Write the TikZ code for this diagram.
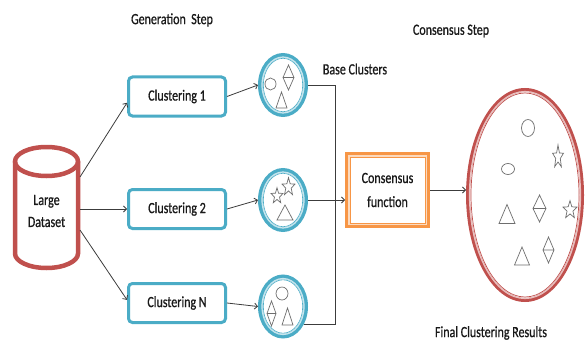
\documentclass[tikz,border=0pt]{standalone}
\usepackage{fontspec}
\setmainfont{Carlito}[FakeBold=0.9]
\usepackage{graphicx}
\usetikzlibrary{shapes.geometric,arrows.meta,calc}
\definecolor{teal1}{RGB}{75,172,198}
\definecolor{red1}{RGB}{192,80,77}
\definecolor{org1}{RGB}{247,150,70}
\definecolor{txt}{RGB}{25,25,25}
\definecolor{connc}{RGB}{60,60,60}
\definecolor{shpc}{RGB}{110,110,110}
\newcommand\vs[1]{\scalebox{1}[1.3]{#1}}
\newcommand\shtri[4]{\draw[shp,shift={(#1,#2)}] (0,-#4) -- (#3,#4) -- (-#3,#4) -- cycle;}
\newcommand\shdia[4]{\draw[shp,shift={(#1,#2)}] (0,-#4) -- (#3,0) -- (0,#4) -- (-#3,0) -- cycle (-#3,0) -- (#3,0);}
\newcommand\shcirc[4]{\draw[shp] (#1,#2) ellipse[x radius=#3, y radius=#4];}
\newcommand\shstar[4]{\draw[shp,shift={(#1,#2)},xscale=#3,yscale=#4] (-90:1) -- (-54:0.42) -- (-18:1) -- (18:0.42) -- (54:1) -- (90:0.42) -- (126:1) -- (162:0.42) -- (198:1) -- (234:0.42) -- cycle;}
\begin{document}
\begin{tikzpicture}[x=1pt,y=-1pt,
  lbl/.style={font=\fontsize{12}{14}\selectfont, text=txt, inner sep=0},
  cbox/.style={draw=teal1, line width=3, rounded corners=4, minimum width=97, minimum height=39, fill=white, font=\fontsize{12}{14}\selectfont, text=txt, inner sep=0},
  bcl/.style={ellipse, draw=teal1, line width=4.5, minimum width=45.5, minimum height=59.5, inner sep=0, fill=white},
  conn/.style={draw=connc, line width=0.8},
  arr/.style={conn, -{Straight Barb[length=3pt,width=6pt]}},
  shp/.style={draw=shpc, line width=0.7}]
\useasboundingbox (0,0) rectangle (585,342);
% cylinder
\draw[red1, line width=4.5, fill=white] (15,161.5) -- (15,253.5) arc[start angle=180, end angle=0, x radius=31.5, y radius=14.5] -- (78,161.5);
\draw[red1, line width=4.5] (46.5,161.5) ellipse [x radius=31.5, y radius=14.5];
\node[inner sep=0, minimum width=67, minimum height=125, align=center, font=\fontsize{12}{22}\selectfont, text=txt] (ds) at (46.5,211) {\vs{Large}\\\vs{Dataset}};
\coordinate (d1) at (80,177);
\coordinate (d2) at (80,209);
\coordinate (d3) at (80,230);
% clustering boxes
\node[cbox] (c1) at (177,96.5) {\vs{Clustering 1}};
\node[cbox] (c2) at (177,209) {\vs{Clustering 2}};
\node[cbox] (c3) at (177,303) {\vs{Clustering N}};
% base clusters
\node[bcl] (b1) at (283,85) {};
\node[bcl] (b2) at (283,200) {};
\node[bcl] (b3) at (283,306.5) {};
\foreach \b in {b1,b2,b3}{
  \draw[teal1!30, line width=1.2] (\b.center) ellipse[x radius=21, y radius=28];
  \draw[teal1, line width=0.6] (\b.center) ellipse[x radius=19.7, y radius=26.7];
}
% consensus box
\node[draw=org1, line width=5.5, minimum width=79.5, minimum height=70.5, inner sep=0, fill=white, align=center, font=\fontsize{12}{24}\selectfont, text=txt] (cf) at (387.5,190) {\vs{Consensus}\\\vs{function}};
\draw[org1!35, line width=2] ([shift={(3.6,3.6)}]cf.north west) rectangle ([shift={(-3.6,-3.6)}]cf.south east);
\draw[org1, line width=0.8] ([shift={(5,5)}]cf.north west) rectangle ([shift={(-5,-5)}]cf.south east);
% final ellipse
\node[ellipse, draw=red1, line width=4, minimum width=114, minimum height=210, inner sep=0, fill=white] (fin) at (525,195) {};
\draw[red1!35, line width=1.2] (fin.center) ellipse[x radius=55.5, y radius=103.5];
\draw[red1, line width=0.7] (fin.center) ellipse[x radius=54, y radius=102];
% labels
\node[lbl] (gen) at (172,20) {\vs{Generation\ \ Step}};
\node[lbl] (bcllbl) at (355,69) {\vs{Base Clusters}};
\node[lbl] (cst) at (451,31) {\vs{Consensus Step}};
\node[lbl] (fcr) at (491,333) {\vs{Final Clustering Results}};
% connectors
\draw[arr] (d1) -- ($(c1.west)!0.3!(c1.south west)$);
\draw[arr] (d2) -- (c2.west);
\draw[arr] (d3) -- ($(c3.west)!0.15!(c3.north west)$);
\draw[arr] (c1.east) -- (b1.west);
\draw[arr] (c2.east) -- (b2.west);
\draw[arr] (c3.east) -- (b3.west);
\coordinate (bus) at (335,0);
\draw[conn] (b1.east) -- (b1.east -| bus) -- (b3.-40 -| bus) -- (b3.-40);
\draw[arr] (b2.east) -- (b2.east -| cf.west);
\draw[arr] (cf.east) -- (cf.east -| fin.west);
% shapes in base clusters
\shcirc{270.5}{84}{5.5}{6}
\shdia{288.5}{77.5}{5.5}{12.5}
\shtri{281.5}{100}{5.5}{8}
\shstar{288.5}{187}{6.8}{9.4}
\shstar{277}{196}{6.3}{8.3}
\shtri{285}{212.5}{8}{7.5}
\shcirc{282}{293.5}{6}{6.5}
\shdia{271.5}{313.5}{4.5}{12.5}
\shtri{287.5}{316.5}{5.5}{8.5}
% shapes in final cluster
\shcirc{528}{128}{6.5}{8.5}
\shstar{558}{157}{5.7}{12}
\shcirc{508}{169}{6.5}{5.5}
\shtri{507}{214}{8}{9.5}
\shdia{539.5}{208.5}{6.5}{13.5}
\shstar{570}{210}{7.4}{9.4}
\shtri{522}{256}{7.5}{9}
\shdia{548.5}{250}{5.5}{13}
\end{tikzpicture}
\end{document}
